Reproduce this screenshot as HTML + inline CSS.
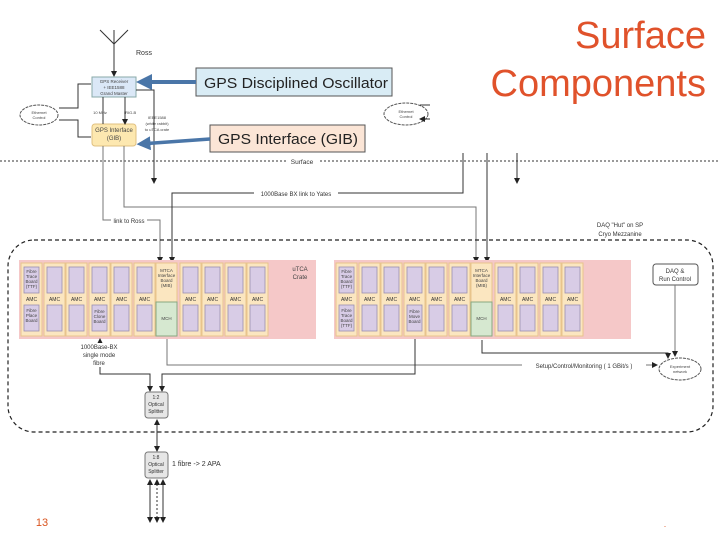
<!DOCTYPE html>
<html><head><meta charset="utf-8"><style>
body{margin:0;background:#fff;width:720px;height:540px;overflow:hidden}
svg{display:block;font-family:"Liberation Sans",sans-serif}
.s{fill:#fbe6c0;stroke:#e8c48c;stroke-width:1}
.p{fill:#d8cce6;stroke:#9a8fb0;stroke-width:.8}
.t{font-size:4.5px;fill:#444;text-anchor:middle}
.a{font-size:5px;fill:#333;text-anchor:middle}
.l{fill:none;stroke:#333;stroke-width:1}
.g{fill:none;stroke:#777;stroke-width:1}
</style></head><body>
<svg width="720" height="540" viewBox="0 0 720 540">
<defs><marker id="ar" markerWidth="6" markerHeight="6" refX="5" refY="3" orient="auto-start-reverse"><path d="M0,0 L6,3 L0,6z" fill="#222"/></marker>
<marker id="ab" markerWidth="4" markerHeight="4" refX="3" refY="2" orient="auto"><path d="M0,0 L4,2 L0,4z" fill="#4a76a8"/></marker></defs>

<text x="706" y="48" font-size="38" fill="#e0522b" text-anchor="end">Surface</text>
<text x="706" y="96" font-size="38" fill="#e0522b" text-anchor="end">Components</text>

<!-- antenna -->
<path d="M100,30 L114,44 L128,30" class="l"/>
<path d="M114,30 L114,76" class="l" marker-end="url(#ar)"/>
<text x="136" y="55" font-size="7" fill="#333">Ross</text>
<rect x="92" y="77" width="44" height="20" fill="#dbe8f7" stroke="#8aa"/>
<text x="114" y="83" class="t">GPS Receiver</text><text x="114" y="89" class="t">+ IEE1588</text><text x="114" y="95" class="t">Grand Master</text>
<rect x="92" y="124" width="44" height="22" rx="3" fill="#fde8b0" stroke="#e0c080"/>
<text x="114" y="132" font-size="6" fill="#444" text-anchor="middle">GPS Interface</text><text x="114" y="140" font-size="6" fill="#444" text-anchor="middle">(GIB)</text>
<path d="M103,97 L103,124 M125,97 L125,124" class="l" marker-end="url(#ar)"/>
<text x="100" y="114" font-size="4" fill="#444" text-anchor="middle">10 MHz</text><text x="124" y="114" font-size="4" fill="#444">IRIG-B</text>
<text x="157" y="119" font-size="4" fill="#444" text-anchor="middle">IEEE1588</text><text x="157" y="125" font-size="4" fill="#444" text-anchor="middle">(white rabbit)</text><text x="157" y="131" font-size="4" fill="#444" text-anchor="middle">to uTCA crate</text>
<path d="M136,90 L154,90 L154,183" class="l" marker-end="url(#ar)"/>
<ellipse cx="39" cy="115" rx="19" ry="10" fill="#fff" stroke="#555" stroke-dasharray="3,1"/>
<text x="39" y="114" font-size="4" fill="#444" text-anchor="middle">Ethernet</text><text x="39" y="119" font-size="4" fill="#444" text-anchor="middle">Control</text>
<path d="M59,108 L78,108 L78,84 L91,84 M59,120 L78,120 L78,137 L91,137" class="l"/>
<ellipse cx="406" cy="114" rx="22" ry="11" fill="#fff" stroke="#555" stroke-dasharray="3,1"/>
<text x="406" y="113" font-size="4" fill="#444" text-anchor="middle">Ethernet</text><text x="406" y="118" font-size="4" fill="#444" text-anchor="middle">Control</text>
<path d="M430,105 L420,105 M430,119 L420,119" class="l" marker-end="url(#ar)"/>

<!-- callouts -->
<rect x="196" y="68" width="196" height="28" fill="#d9ecf5" stroke="#555"/>
<text x="204" y="88" font-size="15" fill="#222" textLength="184" lengthAdjust="spacingAndGlyphs">GPS Disciplined Oscillator</text>
<path d="M196,82 L140,82" stroke="#4a76a8" stroke-width="4" marker-end="url(#ab)"/>
<rect x="210" y="125" width="155" height="27" fill="#fbe5d6" stroke="#555"/>
<text x="218" y="144" font-size="15" fill="#222" textLength="140" lengthAdjust="spacingAndGlyphs">GPS Interface (GIB)</text>
<path d="M210,139 L140,144" stroke="#4a76a8" stroke-width="3.5" marker-end="url(#ab)"/>

<!-- surface -->
<line x1="0" y1="161" x2="720" y2="161" stroke="#333" stroke-dasharray="2,2"/>
<rect x="286" y="157" width="32" height="8" fill="#fff"/><text x="302" y="164" font-size="6.5" fill="#333" text-anchor="middle">Surface</text>

<!-- links -->
<path d="M124,146 L124,207 L476,207 L476,262" class="g" marker-end="url(#ar)"/>
<path d="M103,146 L103,220 L160,220 L160,262" class="g" marker-end="url(#ar)"/>
<rect x="111" y="216" width="36" height="8" fill="#fff"/><text x="129" y="223" font-size="6" fill="#333" text-anchor="middle">link to Ross</text>
<path d="M463,153 L463,193 L172,193 L172,262" class="l" marker-end="url(#ar)"/>
<rect x="254" y="189" width="84" height="8" fill="#fff"/><text x="296" y="196" font-size="6" fill="#333" text-anchor="middle">1000Base BX link to Yates</text>
<path d="M487,153 L487,262" class="l" marker-end="url(#ar)"/>
<path d="M517,153 L517,183" class="l" marker-end="url(#ar)"/>
<text x="620" y="227" font-size="6" fill="#333" text-anchor="middle">DAQ "Hut" on SP</text>
<text x="620" y="236" font-size="6" fill="#333" text-anchor="middle">Cryo Mezzanine</text>

<rect x="8" y="240" width="705" height="192" rx="26" fill="none" stroke="#222" stroke-width="1.2" stroke-dasharray="4,3"/>

<!-- crates -->
<rect x="19" y="260" width="297" height="79" fill="#f5c8c8"/>
<rect x="334" y="260" width="297" height="79" fill="#f5c8c8"/>
<text x="300" y="271" font-size="6" fill="#444" text-anchor="middle">uTCA</text><text x="300" y="279" font-size="6" fill="#444" text-anchor="middle">Crate</text>

<g>
<g transform="translate(21,0)"><rect class="s" x="0" y="263" width="21" height="73"/><rect class="p" x="3" y="267" width="15" height="26"/><rect class="p" x="3" y="305" width="15" height="26"/><text class="t" x="10.5" y="273">Fibre</text><text class="t" x="10.5" y="278">Trace</text><text class="t" x="10.5" y="283">Board</text><text class="t" x="10.5" y="288">(TTF)</text><text class="a" x="10.5" y="301">AMC</text><text class="t" x="10.5" y="312">Fibre</text><text class="t" x="10.5" y="317">Place</text><text class="t" x="10.5" y="322">Board</text></g>
<g transform="translate(44,0)"><rect class="s" x="0" y="263" width="21" height="73"/><rect class="p" x="3" y="267" width="15" height="26"/><rect class="p" x="3" y="305" width="15" height="26"/><text class="a" x="10.5" y="301">AMC</text></g>
<g transform="translate(66,0)"><rect class="s" x="0" y="263" width="21" height="73"/><rect class="p" x="3" y="267" width="15" height="26"/><rect class="p" x="3" y="305" width="15" height="26"/><text class="a" x="10.5" y="301">AMC</text></g>
<g transform="translate(89,0)"><rect class="s" x="0" y="263" width="21" height="73"/><rect class="p" x="3" y="267" width="15" height="26"/><rect class="p" x="3" y="305" width="15" height="26"/><text class="a" x="10.5" y="301">AMC</text><text class="t" x="10.5" y="313">Fibre</text><text class="t" x="10.5" y="318">Clone</text><text class="t" x="10.5" y="323">Board</text></g>
<g transform="translate(111,0)"><rect class="s" x="0" y="263" width="21" height="73"/><rect class="p" x="3" y="267" width="15" height="26"/><rect class="p" x="3" y="305" width="15" height="26"/><text class="a" x="10.5" y="301">AMC</text></g>
<g transform="translate(134,0)"><rect class="s" x="0" y="263" width="21" height="73"/><rect class="p" x="3" y="267" width="15" height="26"/><rect class="p" x="3" y="305" width="15" height="26"/><text class="a" x="10.5" y="301">AMC</text></g>
<g transform="translate(156,0)"><rect class="s" x="0" y="263" width="21" height="73"/><rect x="0" y="302" width="21" height="34" fill="#d6e8d0" stroke="#88a880"/><text class="t" x="10.5" y="272">MTCA</text><text class="t" x="10.5" y="277">Interface</text><text class="t" x="10.5" y="282">Board</text><text class="t" x="10.5" y="287">(MIB)</text><text class="t" x="10.5" y="320">MCH</text></g>
<g transform="translate(180,0)"><rect class="s" x="0" y="263" width="21" height="73"/><rect class="p" x="3" y="267" width="15" height="26"/><rect class="p" x="3" y="305" width="15" height="26"/><text class="a" x="10.5" y="301">AMC</text></g>
<g transform="translate(202,0)"><rect class="s" x="0" y="263" width="21" height="73"/><rect class="p" x="3" y="267" width="15" height="26"/><rect class="p" x="3" y="305" width="15" height="26"/><text class="a" x="10.5" y="301">AMC</text></g>
<g transform="translate(225,0)"><rect class="s" x="0" y="263" width="21" height="73"/><rect class="p" x="3" y="267" width="15" height="26"/><rect class="p" x="3" y="305" width="15" height="26"/><text class="a" x="10.5" y="301">AMC</text></g>
<g transform="translate(247,0)"><rect class="s" x="0" y="263" width="21" height="73"/><rect class="p" x="3" y="267" width="15" height="26"/><rect class="p" x="3" y="305" width="15" height="26"/><text class="a" x="10.5" y="301">AMC</text></g>
</g>
<g transform="translate(315,0)">
<g transform="translate(21,0)"><rect class="s" x="0" y="263" width="21" height="73"/><rect class="p" x="3" y="267" width="15" height="26"/><rect class="p" x="3" y="305" width="15" height="26"/><text class="t" x="10.5" y="273">Fibre</text><text class="t" x="10.5" y="278">Trace</text><text class="t" x="10.5" y="283">Board</text><text class="t" x="10.5" y="288">(TTF)</text><text class="a" x="10.5" y="301">AMC</text><text class="t" x="10.5" y="312">Fibre</text><text class="t" x="10.5" y="317">Trace</text><text class="t" x="10.5" y="322">Board</text><text class="t" x="10.5" y="327">(TTF)</text></g>
<g transform="translate(44,0)"><rect class="s" x="0" y="263" width="21" height="73"/><rect class="p" x="3" y="267" width="15" height="26"/><rect class="p" x="3" y="305" width="15" height="26"/><text class="a" x="10.5" y="301">AMC</text></g>
<g transform="translate(66,0)"><rect class="s" x="0" y="263" width="21" height="73"/><rect class="p" x="3" y="267" width="15" height="26"/><rect class="p" x="3" y="305" width="15" height="26"/><text class="a" x="10.5" y="301">AMC</text></g>
<g transform="translate(89,0)"><rect class="s" x="0" y="263" width="21" height="73"/><rect class="p" x="3" y="267" width="15" height="26"/><rect class="p" x="3" y="305" width="15" height="26"/><text class="a" x="10.5" y="301">AMC</text><text class="t" x="10.5" y="313">Fibre</text><text class="t" x="10.5" y="318">Move</text><text class="t" x="10.5" y="323">Board</text></g>
<g transform="translate(111,0)"><rect class="s" x="0" y="263" width="21" height="73"/><rect class="p" x="3" y="267" width="15" height="26"/><rect class="p" x="3" y="305" width="15" height="26"/><text class="a" x="10.5" y="301">AMC</text></g>
<g transform="translate(134,0)"><rect class="s" x="0" y="263" width="21" height="73"/><rect class="p" x="3" y="267" width="15" height="26"/><rect class="p" x="3" y="305" width="15" height="26"/><text class="a" x="10.5" y="301">AMC</text></g>
<g transform="translate(156,0)"><rect class="s" x="0" y="263" width="21" height="73"/><rect x="0" y="302" width="21" height="34" fill="#d6e8d0" stroke="#88a880"/><text class="t" x="10.5" y="272">MTCA</text><text class="t" x="10.5" y="277">Interface</text><text class="t" x="10.5" y="282">Board</text><text class="t" x="10.5" y="287">(MIB)</text><text class="t" x="10.5" y="320">MCH</text></g>
<g transform="translate(180,0)"><rect class="s" x="0" y="263" width="21" height="73"/><rect class="p" x="3" y="267" width="15" height="26"/><rect class="p" x="3" y="305" width="15" height="26"/><text class="a" x="10.5" y="301">AMC</text></g>
<g transform="translate(202,0)"><rect class="s" x="0" y="263" width="21" height="73"/><rect class="p" x="3" y="267" width="15" height="26"/><rect class="p" x="3" y="305" width="15" height="26"/><text class="a" x="10.5" y="301">AMC</text></g>
<g transform="translate(225,0)"><rect class="s" x="0" y="263" width="21" height="73"/><rect class="p" x="3" y="267" width="15" height="26"/><rect class="p" x="3" y="305" width="15" height="26"/><text class="a" x="10.5" y="301">AMC</text></g>
<g transform="translate(247,0)"><rect class="s" x="0" y="263" width="21" height="73"/><rect class="p" x="3" y="267" width="15" height="26"/><rect class="p" x="3" y="305" width="15" height="26"/><text class="a" x="10.5" y="301">AMC</text></g>
</g>

<rect x="653" y="264" width="45" height="21" rx="3" fill="#fff" stroke="#555"/>
<text x="675" y="273" font-size="6" fill="#333" text-anchor="middle">DAQ &amp;</text><text x="675" y="281" font-size="6" fill="#333" text-anchor="middle">Run Control</text>
<path d="M675,285 L675,356" class="g" marker-end="url(#ar)"/>
<ellipse cx="680" cy="369" rx="21" ry="11" fill="#fff" stroke="#555" stroke-dasharray="3,1"/>
<text x="680" y="368" font-size="4" fill="#444" text-anchor="middle">Experiment</text><text x="680" y="373" font-size="4" fill="#444" text-anchor="middle">network</text>
<path d="M482,340 L482,353 L668,353 L668,358" class="l" marker-end="url(#ar)"/>
<path d="M167,339 L167,365 L657,365" class="g" marker-end="url(#ar)"/>
<rect x="522" y="361" width="124" height="8" fill="#fff"/><text x="584" y="368" font-size="6" fill="#333" text-anchor="middle">Setup/Control/Monitoring ( 1 GBit/s )</text>

<!-- fibre -->
<path d="M100,372 L100,339" class="l" marker-end="url(#ar)"/>
<rect x="78" y="343" width="44" height="24" fill="#fff"/>
<text x="99" y="349" font-size="6" fill="#333" text-anchor="middle">1000Base-BX</text><text x="99" y="357" font-size="6" fill="#333" text-anchor="middle">single mode</text><text x="99" y="365" font-size="6" fill="#333" text-anchor="middle">fibre</text>
<path d="M100,367 L100,374 L150,374 L150,391" class="l" marker-end="url(#ar)"/>
<path d="M415,339 L415,374 L162,374 L162,391" class="l" marker-end="url(#ar)"/>
<rect x="145" y="392" width="23" height="26" rx="3" fill="#e6e6e6" stroke="#777"/>
<text x="156" y="399" font-size="5" fill="#333" text-anchor="middle">1:2</text><text x="156" y="406" font-size="5" fill="#333" text-anchor="middle">Optical</text><text x="156" y="413" font-size="5" fill="#333" text-anchor="middle">Splitter</text>
<path d="M157,420 L157,451" class="l" marker-end="url(#ar)" marker-start="url(#ar)"/>
<rect x="145" y="452" width="23" height="26" rx="3" fill="#e6e6e6" stroke="#777"/>
<text x="156" y="459" font-size="5" fill="#333" text-anchor="middle">1:8</text><text x="156" y="466" font-size="5" fill="#333" text-anchor="middle">Optical</text><text x="156" y="473" font-size="5" fill="#333" text-anchor="middle">Splitter</text>
<text x="172" y="466" font-size="7" fill="#333">1 fibre -&gt; 2 APA</text>
<path d="M150,480 L150,522" class="l" marker-end="url(#ar)" marker-start="url(#ar)"/>
<path d="M163,480 L163,522" class="l" marker-end="url(#ar)" marker-start="url(#ar)"/>
<path d="M157,480 L157,522" class="l" stroke-dasharray="2,2" marker-end="url(#ar)" marker-start="url(#ar)"/>
<text x="42" y="526" font-size="11" fill="#d9531e" text-anchor="middle">13</text>
<text x="664" y="528" font-size="6" fill="#d9531e">-</text>
</svg>
</body></html>
